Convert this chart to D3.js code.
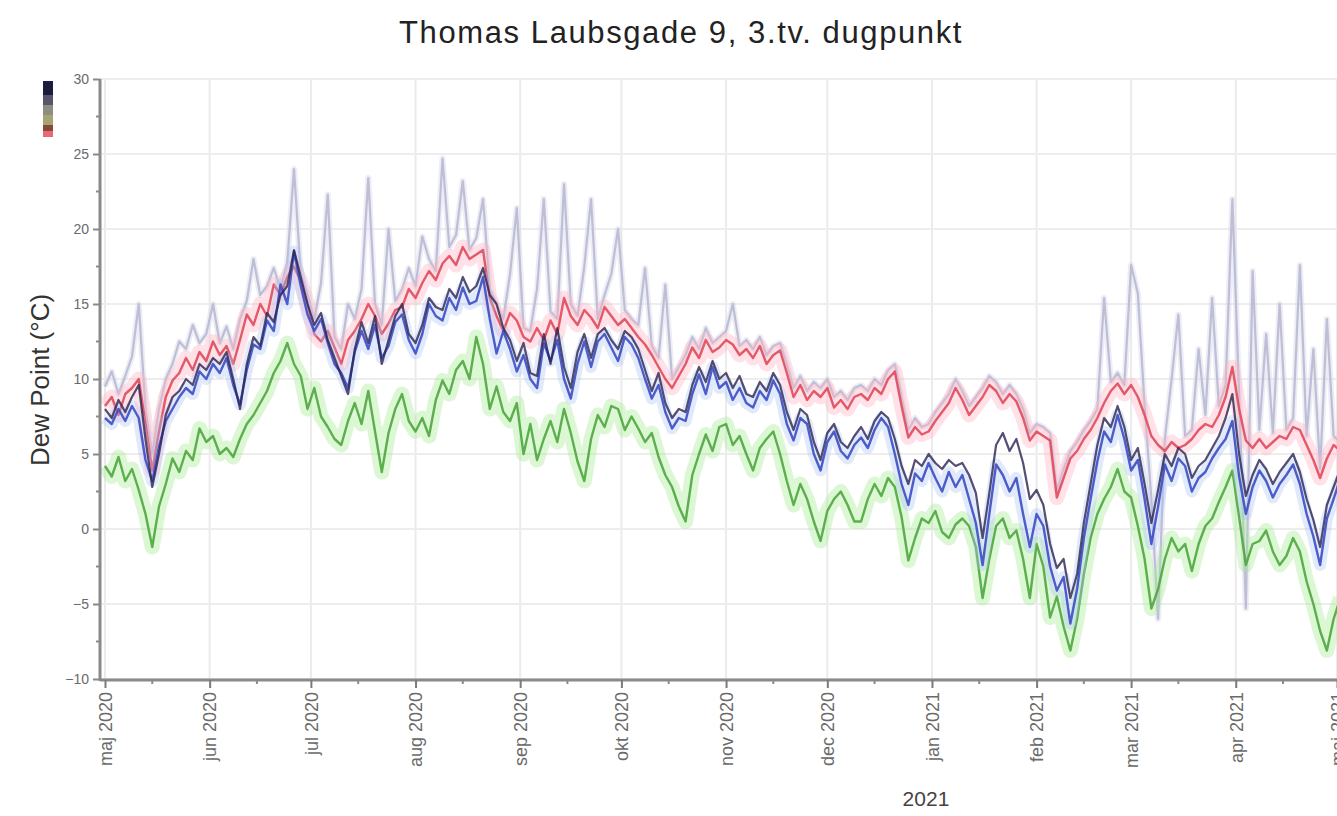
<!DOCTYPE html>
<html><head><meta charset="utf-8">
<script src="https://cdn.jsdelivr.net/npm/d3@7"></script>
<style>body{margin:0;background:#fff;}svg{display:block;font-family:"Liberation Sans",Arial,sans-serif;}</style>
</head><body><svg id="c" width="1337" height="816"></svg>
<script>
const title = "Thomas Laubsgade 9, 3.tv. dugpunkt";
const yLabel = "Dew Point (°C)";
const monthNames = ["jan","feb","mar","apr","maj","jun","jul","aug","sep","okt","nov","dec"];
const yTicks = [-10,-5,0,5,10,15,20,25,30];
const yearLabel = "2021";
const startDate = "2020-05-01"; // samples every 2 days
const stepDays = 2;

const spikeSeries = [9.5,10.5,9.0,10.2,11.5,15.0,8.0,5.0,8.0,10.0,11.0,12.5,12.0,13.6,12.4,13.0,15.0,12.4,13.5,12.0,14.0,15.2,18.0,15.6,16.2,17.4,16.0,17.8,24.0,17.0,15.6,14.0,16.4,22.3,12.8,12.0,15.0,14.0,16.0,23.4,15.0,13.6,20.0,15.2,16.0,17.4,16.2,19.5,18.0,17.2,24.7,18.8,19.6,23.2,18.6,19.4,22.0,16.0,15.0,14.0,17.0,21.4,13.4,13.2,16.0,22.0,14.5,14.0,23.0,15.0,14.2,17.5,22.0,14.0,15.6,17.0,20.0,14.6,14.0,13.6,17.4,12.2,11.4,16.3,10.0,10.8,11.6,12.8,12.0,13.4,12.4,12.8,13.2,15.0,12.2,12.6,12.0,12.8,11.6,12.2,12.4,11.0,9.4,10.2,9.2,9.8,9.4,10.0,8.8,9.2,8.6,9.4,9.6,9.2,10.0,9.6,10.6,11.0,8.8,6.6,7.4,6.8,7.0,7.8,8.4,9.0,10.0,9.2,8.2,8.8,9.4,10.2,9.8,9.0,9.6,9.0,8.0,6.4,7.0,6.8,6.4,2.6,4.0,5.2,5.8,6.6,7.2,8.0,15.4,9.8,10.4,9.6,17.6,15.7,8.2,2.0,-6.0,6.0,10.0,14.3,6.2,6.6,12.0,7.6,15.4,8.2,9.6,22.0,9.0,-5.3,17.2,6.6,13.0,6.4,15.0,6.6,7.4,17.6,6.2,12.0,4.0,14.0,6.2,5.8];

const greenSeries = [4.2,3.5,4.8,3.2,4.0,2.6,1.0,-1.2,1.5,3.0,4.7,3.8,5.2,4.6,6.7,5.8,6.2,5.0,5.4,4.8,6.0,7.0,7.6,8.4,9.2,10.4,11.2,12.4,11.0,10.2,8.0,9.4,7.5,6.8,6.0,5.6,7.2,8.4,7.0,9.2,6.5,3.8,6.4,8.0,9.0,7.2,6.5,7.4,6.2,8.6,9.9,9.0,10.6,11.2,10.0,12.8,11.0,8.0,9.5,7.8,7.2,8.4,5.0,7.0,4.6,6.0,7.2,5.8,8.0,6.4,4.5,3.2,6.0,7.6,6.8,8.2,8.0,6.6,7.5,6.7,5.8,6.4,4.8,3.6,2.8,1.5,0.5,3.6,5.0,6.3,5.2,6.8,7.0,5.6,6.2,5.0,3.9,5.4,6.0,6.5,5.0,3.2,1.6,3.0,2.0,0.5,-0.8,1.2,2.0,2.5,1.6,0.5,0.5,2.0,3.0,2.2,3.4,2.8,0.8,-2.1,-0.6,0.7,0.4,1.2,-0.2,-0.6,0.3,0.7,0.2,-1.2,-4.6,-2.0,0.2,0.7,-0.6,-0.1,-2.0,-4.6,-1.0,-2.5,-5.9,-4.5,-6.5,-8.1,-6.0,-3.0,-0.6,1.0,2.0,2.8,4.0,2.5,2.1,0.2,-2.0,-5.3,-4.0,-2.0,-0.6,-1.5,-1.0,-2.8,-1.0,0.2,0.7,1.8,2.8,3.9,0.8,-2.4,-1.0,-0.8,-0.1,-1.5,-2.4,-1.8,-0.6,-1.5,-3.5,-5.0,-6.8,-8.1,-6.0,-4.6];

const blueSeries = [7.4,7.0,8.0,7.2,8.2,7.4,4.6,3.2,5.5,7.2,8.0,8.8,9.4,9.0,10.5,10.0,11.0,10.4,11.4,9.6,8.3,10.6,12.3,12.0,13.9,13.2,16.3,15.0,18.5,16.2,14.3,13.2,14.0,12.4,11.0,10.4,9.4,11.8,13.2,12.0,13.6,11.4,12.2,13.8,14.3,12.6,11.7,13.0,15.0,14.2,13.9,15.4,14.6,16.1,15.0,15.2,16.8,14.0,11.7,13.2,12.0,10.5,11.6,10.0,9.4,12.4,11.2,12.6,10.0,8.7,11.0,12.5,10.8,12.5,13.0,12.1,11.2,12.8,12.3,11.4,10.0,8.7,9.6,7.8,6.7,7.4,7.2,9.0,10.3,9.0,10.8,9.4,9.8,8.6,9.4,8.4,8.1,9.2,8.6,9.9,9.0,7.0,5.9,7.4,7.0,5.0,3.9,5.8,6.5,5.2,4.7,5.6,6.1,5.4,6.6,7.4,6.8,5.0,3.0,1.6,3.7,3.2,4.4,3.4,2.5,3.8,2.8,3.6,2.0,0.4,-2.4,1.0,4.3,3.6,2.5,3.4,1.0,-1.2,1.0,0.2,-2.5,-4.1,-3.2,-6.3,-4.0,-0.6,2.0,4.5,6.5,5.8,7.6,6.0,3.9,4.6,2.0,-1.0,1.5,4.3,3.2,4.7,4.2,2.5,3.4,3.8,4.7,5.4,6.0,7.2,3.5,1.0,2.8,3.9,3.2,2.1,3.0,3.6,4.3,3.0,1.0,-0.5,-2.4,0.7,2.0,3.4];

const navySeries = [8.0,7.4,8.6,7.8,8.8,9.6,6.0,2.8,5.0,7.6,8.8,9.2,10.0,9.6,11.0,10.6,11.4,11.0,11.8,10.0,8.0,11.0,12.8,12.2,14.4,13.8,15.6,16.2,18.6,16.8,15.0,13.6,14.4,12.6,11.4,10.2,9.0,12.0,13.8,12.4,14.2,11.0,12.6,14.2,15.0,13.0,12.4,13.6,15.4,14.8,14.6,16.0,15.4,16.8,15.8,16.2,17.4,15.6,15.0,13.4,12.6,11.2,12.4,10.4,10.2,13.0,11.0,13.4,10.8,9.4,11.8,13.0,11.4,13.0,13.4,12.6,12.0,13.2,12.8,12.0,10.6,9.2,10.4,8.4,7.4,8.0,7.8,9.6,10.8,9.8,11.2,10.0,10.4,9.4,10.2,9.0,8.8,9.8,9.2,10.4,9.6,7.8,6.6,8.0,7.6,5.8,4.6,6.4,7.0,5.8,5.4,6.2,6.8,6.0,7.2,7.8,7.4,6.0,4.2,3.0,4.6,4.2,5.0,4.4,4.0,4.6,4.2,4.4,3.6,2.4,-0.6,2.4,5.6,6.4,5.2,6.0,4.4,2.0,2.6,1.6,-1.0,-2.6,-2.0,-4.6,-3.0,0.4,3.0,5.6,7.4,6.8,8.2,6.8,4.6,5.4,3.0,0.4,2.6,5.0,4.2,5.4,5.0,3.4,4.2,4.6,5.4,6.2,7.4,9.0,5.0,2.2,3.6,4.6,4.0,3.0,3.8,4.4,5.0,3.8,2.0,0.6,-1.2,1.6,2.8,4.0];

const pinkSeries = [8.2,8.8,7.6,9.0,9.4,10.0,7.0,3.9,6.5,8.8,9.9,10.4,11.4,10.6,11.8,11.2,12.5,11.6,12.2,11.0,12.6,14.3,13.6,15.0,14.2,16.3,15.6,16.8,17.5,16.5,15.0,13.0,12.5,13.2,12.1,11.0,12.6,13.2,14.0,15.0,14.2,13.0,13.7,14.6,14.8,16.0,15.4,16.4,17.2,16.6,17.7,18.2,17.6,18.8,18.0,18.3,18.6,15.4,14.2,13.2,14.4,13.9,12.8,12.5,13.4,12.6,13.9,13.0,15.4,14.2,13.6,14.6,14.1,13.4,14.8,14.2,13.6,14.0,13.4,12.8,12.3,11.6,10.8,10.0,9.4,10.2,11.0,12.1,11.4,12.6,11.8,12.1,12.6,12.3,11.6,12.0,11.4,12.2,11.0,11.6,11.9,10.4,8.8,9.6,8.6,9.2,8.8,9.4,8.1,8.6,8.0,8.8,9.0,8.6,9.4,9.0,10.0,10.5,8.2,6.1,6.8,6.3,6.5,7.2,7.8,8.4,9.4,8.6,7.6,8.2,8.8,9.6,9.2,8.4,9.0,8.5,7.4,5.9,6.5,6.2,5.9,2.1,3.4,4.7,5.2,6.0,6.6,7.4,8.4,9.2,9.7,9.0,9.6,8.8,7.6,6.2,5.6,5.2,5.8,5.4,5.6,6.0,6.6,7.0,6.8,7.6,8.8,10.8,8.0,5.9,5.4,6.0,5.4,5.8,6.2,6.0,6.8,6.6,5.6,4.6,3.4,4.7,5.6,5.2];

const legendColors = ["#1c1c3e","#55556e","#8e8e80","#a6a474","#884838","#e8687c"];

const svg = d3.select("#c");
const pLeft = 100, pRight = 1337, pTop = 79, pBottom = 679;

const x = d3.scaleTime().domain([new Date(2020,4,1), new Date(2021,4,1)]).range([105, 1337]);
const y = d3.scaleLinear().domain([-10, 30]).range([pBottom, pTop]);
const t0 = new Date(2020,4,1);
const dateAt = i => d3.timeDay.offset(t0, i*stepDays);

// grid
const months = d3.timeMonth.range(new Date(2020,4,1), new Date(2021,5,2));
svg.append("g").selectAll("line").data(months).join("line")
  .attr("x1", d=>x(d)).attr("x2", d=>x(d)).attr("y1", pTop).attr("y2", pBottom)
  .attr("stroke", "#ebebeb").attr("stroke-width", 2);
svg.append("g").selectAll("line").data(yTicks).join("line")
  .attr("x1", pLeft).attr("x2", pRight).attr("y1", d=>y(d)).attr("y2", d=>y(d))
  .attr("stroke", "#ededed").attr("stroke-width", 2);

// clip
svg.append("clipPath").attr("id","clip").append("rect")
  .attr("x", pLeft+1).attr("y", 0).attr("width", pRight-pLeft).attr("height", pBottom);
const plot = svg.append("g").attr("clip-path","url(#clip)");

const line = d3.line().x((d,i)=>x(dateAt(i))).y(d=>y(d));

function drawSeries(vals, halo, haloW, haloOp, color, w, op){
  if (halo) plot.append("path").datum(vals).attr("d", line).attr("fill","none")
    .attr("stroke", halo).attr("stroke-width", haloW).attr("stroke-opacity", haloOp)
    .attr("stroke-linejoin","round");
  plot.append("path").datum(vals).attr("d", line).attr("fill","none")
    .attr("stroke", color).attr("stroke-width", w).attr("stroke-opacity", op)
    .attr("stroke-linejoin","round");
}
drawSeries(spikeSeries, "#dcdcec", 6, 0.5, "#b8b8d4", 2.2, 0.9);
drawSeries(greenSeries, "#a8ec94", 15, 0.4, "#4ea63e", 2.4, 0.9);
drawSeries(pinkSeries, "#ffb4c2", 15, 0.4, "#e04a5c", 2.4, 0.9);
drawSeries(blueSeries, "#a8c4f4", 12, 0.35, "#3c4cc4", 2.4, 0.9);
drawSeries(navySeries, null, 0, 0, "#2a2350", 2.2, 0.8);

// axes
svg.append("line").attr("x1", pLeft).attr("x2", pLeft).attr("y1", pTop).attr("y2", pBottom+2)
  .attr("stroke","#8a8a8a").attr("stroke-width",3);
svg.append("line").attr("x1", pLeft).attr("x2", pRight).attr("y1", pBottom+1).attr("y2", pBottom+1)
  .attr("stroke","#8a8a8a").attr("stroke-width",3);

const yAxis = d3.axisLeft(y).tickValues(yTicks).tickSize(7).tickPadding(4);
const gy = svg.append("g").attr("transform",`translate(${pLeft},0)`).call(yAxis);
gy.select(".domain").remove();
gy.selectAll("line").attr("stroke","#8a8a8a").attr("stroke-width",2);
gy.selectAll("text").attr("fill","#6a6a6a").style("font-size","14px");
const yMinor = d3.range(-7.5, 30, 5);
svg.append("g").selectAll("line").data(yMinor).join("line")
  .attr("x1", pLeft-4).attr("x2", pLeft).attr("y1", d=>y(d)).attr("y2", d=>y(d))
  .attr("stroke","#8a8a8a").attr("stroke-width",2);

const xAxis = d3.axisBottom(x).tickValues(months.filter(d=>x(d)<=1340))
  .tickSize(8).tickFormat(d=>monthNames[d.getMonth()]+" "+d.getFullYear());
const gx = svg.append("g").attr("transform",`translate(0,${pBottom+1})`).call(xAxis);
gx.select(".domain").remove();
gx.selectAll("line").attr("stroke","#7a7a7a").attr("stroke-width",2);
gx.selectAll("text").attr("fill","#6a6a6a").style("font-size","18px")
  .attr("text-anchor","end").attr("transform","rotate(-90)")
  .attr("x", -12).attr("y", 0).attr("dy","0.35em");
const xMinor = months.map(d=>d3.timeDay.offset(d,14)).filter(d=>x(d)<1337);
svg.append("g").selectAll("line").data(xMinor).join("line")
  .attr("x1", d=>x(d)).attr("x2", d=>x(d)).attr("y1", pBottom+1).attr("y2", pBottom+5)
  .attr("stroke","#8a8a8a").attr("stroke-width",2);

svg.append("text").attr("x", x(new Date(2021,0,1))-6).attr("y", 806)
  .attr("text-anchor","middle").attr("fill","#444").style("font-size","21px").text(yearLabel);

// title and y label
svg.append("text").attr("x", 681).attr("y", 43).attr("text-anchor","middle")
  .attr("fill","#222").style("font-size","31px").style("letter-spacing","1.6px").text(title);
svg.append("text").attr("transform","translate(49,380) rotate(-90)").attr("text-anchor","middle")
  .attr("fill","#333").style("font-size","26px").text(yLabel);

// legend swatches
const lh = [14,10,10,10,6,6];
let ly = 81;
legendColors.forEach((c,i)=>{
  svg.append("rect").attr("x",43).attr("y",ly).attr("width",10).attr("height",lh[i]).attr("fill",c);
  ly += lh[i];
});
</script></body></html>
